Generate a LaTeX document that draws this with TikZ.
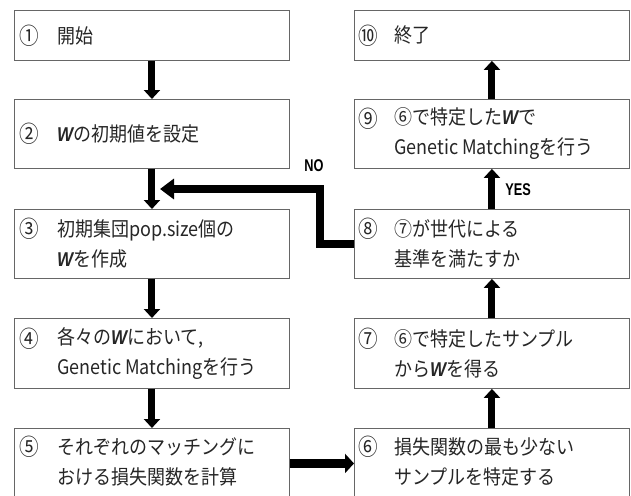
\documentclass[tikz,border=0pt]{standalone}
\usepackage{fontspec}
\setmainfont{Noto Sans CJK JP}[FakeStretch=0.9]
\newfontfamily\numfont{Noto Sans CJK JP}[FakeStretch=0.85]
\newfontfamily\wfont{Liberation Sans}[FakeStretch=0.85]
\newfontfamily\lblfont{Liberation Sans}[FakeStretch=0.75]
\usetikzlibrary{arrows.meta}
\newcommand\WW{{\wfont\bfseries\itshape W}}
\begin{document}
\begin{tikzpicture}[x=1pt,y=-1pt,
  box/.style={draw=black!60, line width=0.9pt, rectangle, minimum width=275pt, minimum height=70pt, inner sep=0pt, anchor=north west},
  num/.style={anchor=center, inner sep=0pt, text=black!85, font=\numfont\fontsize{23}{24}\selectfont},
  txt/.style={anchor=west, align=left, inner sep=0pt, text=black!85, font=\fontsize{20}{30}\selectfont},
  flow/.style={line width=7pt, -{Triangle[width=16pt,length=9pt]}},
  bigflow/.style={line width=9pt, -{Triangle[width=19pt,length=9pt]}},
  noflow/.style={line width=7.5pt, -{Triangle[width=20pt,length=14pt]}},
  lbl/.style={inner sep=0pt, font=\lblfont\bfseries\fontsize{17}{18}\selectfont}
]
\useasboundingbox (0,0) rectangle (631,495);
\fill[white] (0,0) rectangle (631,495);
% left column
\node[box, minimum height=50pt] (b1) at (14,10) {};
\node[box, minimum height=69pt] (b2) at (14,99) {};
\node[box, minimum height=69pt] (b3) at (14,209) {};
\node[box] (b4) at (14,318) {};
\node[box] (b5) at (14,428) {};
% right column
\node[box, minimum height=50pt] (b10) at (354,10) {};
\node[box, minimum height=69pt] (b9) at (354,99) {};
\node[box, minimum height=69pt] (b8) at (354,209) {};
\node[box] (b7) at (354,318) {};
\node[box] (b6) at (354,428) {};
% numbers
\node[num] (n1) at ([xshift=15pt]b1.west) {①};
\node[num] (n2) at ([xshift=15pt]b2.west) {②};
\node[num] (n3) at ([xshift=15pt,yshift=15pt]b3.west) {③};
\node[num] (n4) at ([xshift=15pt,yshift=15pt]b4.west) {④};
\node[num] (n5) at ([xshift=15pt,yshift=17pt]b5.west) {⑤};
\node[num] (n10) at ([xshift=14pt]b10.west) {⑩};
\node[num] (n9) at ([xshift=14pt,yshift=15pt]b9.west) {⑨};
\node[num] (n8) at ([xshift=14pt,yshift=15pt]b8.west) {⑧};
\node[num] (n7) at ([xshift=14pt,yshift=15pt]b7.west) {⑦};
\node[num] (n6) at ([xshift=14pt,yshift=17pt]b6.west) {⑥};
% texts
\node[txt] (t1) at ([xshift=43pt]b1.west) {開始};
\node[txt] (t2) at ([xshift=43pt]b2.west) {\WW の初期値を設定};
\node[txt] (t3) at ([xshift=43pt]b3.west) {初期集団pop.size個の\\\WW を作成};
\node[txt] (t4) at ([xshift=43pt]b4.west) {各々の\WW において,\\Genetic Matchingを行う};
\node[txt] (t5) at ([xshift=43pt,yshift=2pt]b5.west) {それぞれのマッチングに\\おける損失関数を計算};
\node[txt] (t10) at ([xshift=40pt]b10.west) {終了};
\node[txt] (t9) at ([xshift=40pt]b9.west) {⑥で特定した\WW で\\Genetic Matchingを行う};
\node[txt] (t8) at ([xshift=40pt]b8.west) {⑦が世代による\\基準を満たすか};
\node[txt] (t7) at ([xshift=40pt]b7.west) {⑥で特定したサンプル\\から\WW を得る};
\node[txt] (t6) at ([xshift=40pt,yshift=2pt]b6.west) {損失関数の最も少ない\\サンプルを特定する};
% connectors
\draw[flow] (b1) -- (b2);
\draw[flow] (b2) -- (b3);
\draw[flow] (b3) -- (b4);
\draw[flow] (b4) -- (b5);
\draw[bigflow] (b5) -- (b6);
\draw[flow] (b6) -- (b7);
\draw[flow] (b7) -- (b8);
\draw[flow] (b8) -- (b9);
\draw[flow] (b9) -- (b10);
\coordinate (nocorner) at (320,189);
\coordinate (notip) at (160,189);
\draw[noflow] (b8.west) -| (nocorner) -- (notip);
% labels
\node[lbl] (no) at (314,166) {NO};
\node[lbl] (yes) at (518,190) {YES};
\end{tikzpicture}
\end{document}
